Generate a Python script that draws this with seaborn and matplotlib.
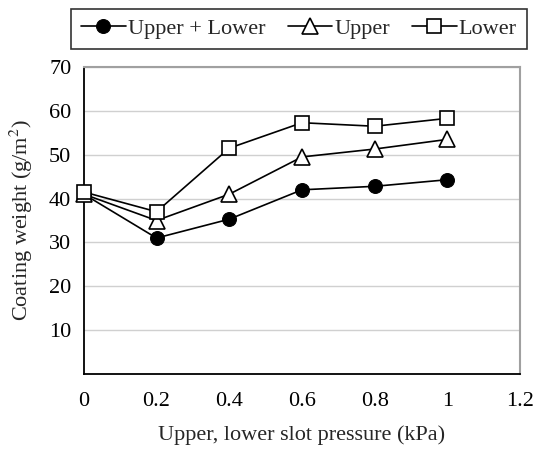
import matplotlib
matplotlib.use("Agg")
import matplotlib.pyplot as plt
import seaborn as sns
import pandas as pd

# data
pressure = [0, 0.2, 0.4, 0.6, 0.8, 1.0]
upper_lower = [41.0, 31.0, 35.3, 42.0, 42.8, 44.3]
upper = [41.0, 35.0, 41.0, 49.5, 51.3, 53.5]
lower = [41.5, 37.0, 51.5, 57.3, 56.5, 58.3]
series_names = ["Upper + Lower", "Upper", "Lower"]

sns.set_style("white")
plt.rcParams["font.family"] = ["Liberation Serif", "DejaVu Serif"]
plt.rcParams["mathtext.fontset"] = "stix"

fig = plt.figure(figsize=(5.34, 4.5), dpi=100)
ax = fig.add_axes([0.157, 0.169, 0.817, 0.682])

styles = [
    dict(marker="o", markerfacecolor="black", markeredgecolor="black", markersize=10),
    dict(marker="^", markerfacecolor="white", markeredgecolor="black", markersize=11, markeredgewidth=1.2),
    dict(marker="s", markerfacecolor="white", markeredgecolor="black", markersize=10, markeredgewidth=1.2),
]
values = [upper_lower, upper, lower]
for name, vals, st in zip(series_names, values, styles):
    df = pd.DataFrame({"x": pressure, "y": vals})
    sns.lineplot(data=df, x="x", y="y", ax=ax, color="black", linewidth=1.2,
                 label=name, zorder=3, clip_on=False, **st)

ax.set_xlim(0, 1.2)
ax.set_ylim(0, 70)
ax.set_xticks([0, 0.2, 0.4, 0.6, 0.8, 1.0, 1.2])
ax.set_xticklabels(["0", "0.2", "0.4", "0.6", "0.8", "1", "1.2"])
ax.set_yticks([10, 20, 30, 40, 50, 60, 70])
ax.yaxis.grid(True, color="#d0d0d0", linewidth=1)
ax.set_axisbelow(True)

for s in ["left", "bottom"]:
    ax.spines[s].set_color("black")
    ax.spines[s].set_linewidth(1.3)
for s in ["top", "right"]:
    ax.spines[s].set_color("#a0a0a0")
    ax.spines[s].set_linewidth(1.5)

ax.tick_params(axis="both", direction="in", length=5, width=1.2, labelsize=16, pad=9,
               colors="black")
ax.tick_params(axis="x", pad=13)
ax.set_xlabel("Upper, lower slot pressure (kPa)", fontsize=16, labelpad=10)
ax.set_ylabel("Coating weight (g/m$^2$)", fontsize=16, labelpad=10)

handles, labels = ax.get_legend_handles_labels()
ax.get_legend().remove()
leg = fig.legend(handles, labels, loc="center", ncol=3,
                 bbox_to_anchor=(0.56, 0.936),
                 frameon=True, fancybox=False, edgecolor="black", fontsize=16,
                 handlelength=2.0, handletextpad=0.1, columnspacing=1.0,
                 borderpad=0.45)
leg.get_frame().set_linewidth(1.2)

fig.savefig("out.png", dpi=100)
